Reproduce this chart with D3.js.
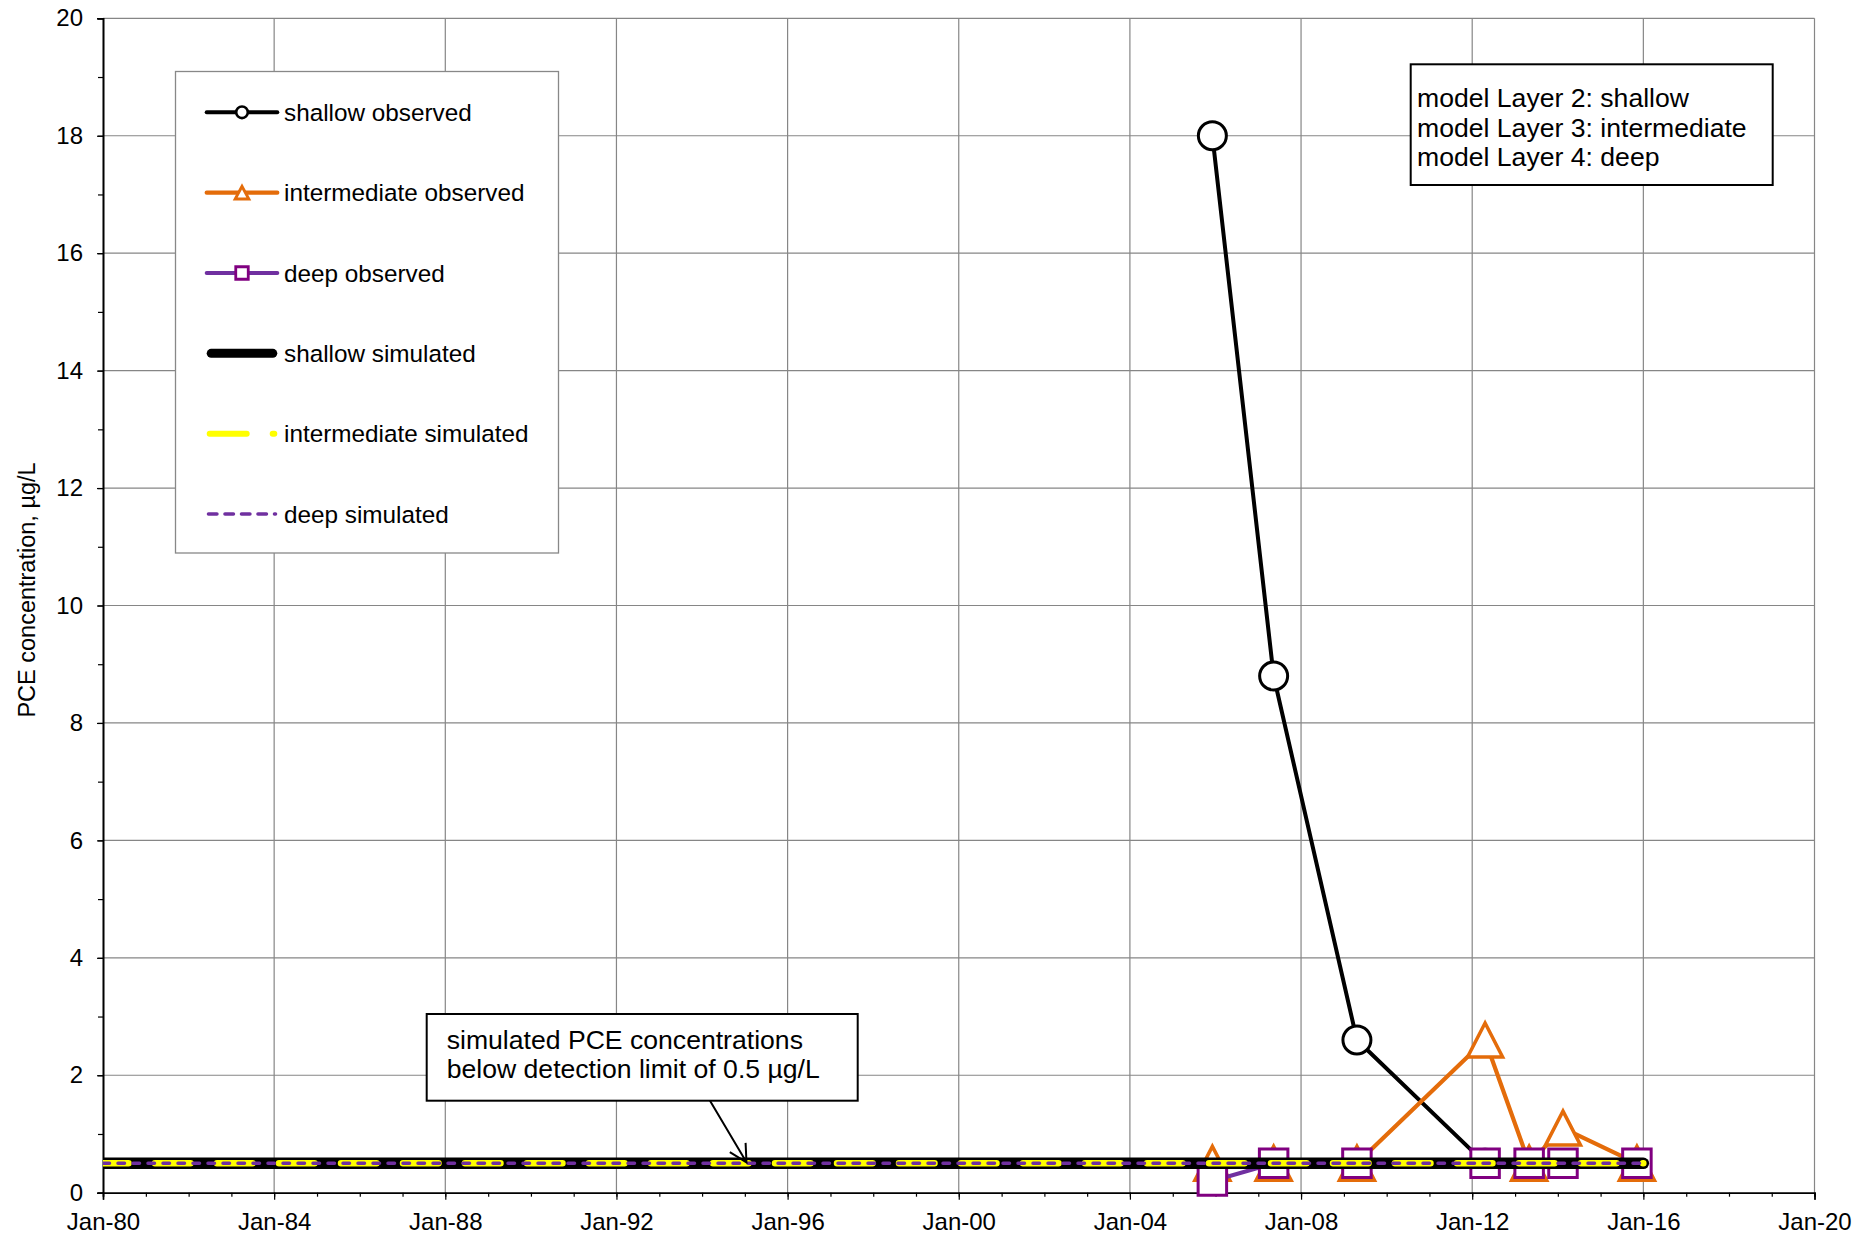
<!DOCTYPE html>
<html><head><meta charset="utf-8">
<script src="https://cdn.jsdelivr.net/npm/d3@7"></script>
<style>
body{margin:0;background:#fff}
svg{display:block}
text{font-family:Arial,"Liberation Sans",sans-serif;fill:#000}
</style></head>
<body><svg id="c" width="1872" height="1236"></svg>
<script>
// ---------- data ----------
const obsDates = ["2005-12-05","2007-05-12","2009-04-22","2012-04-20","2013-05-01","2014-02-14","2015-11-07"];
const shallowDates = ["2005-12-05","2007-05-12","2009-04-22","2012-04-20"];
const shallowObserved = [18, 8.8, 2.6, 0.5];
const intermediateObserved = [0.5, 0.5, 0.5, 2.6, 0.5, 1.1, 0.5];
const deepObserved = [0.2, 0.5, 0.5, 0.5, 0.5, 0.5, 0.5];
const simDates = ["1980-01-01","2016-01-01"];
const shallowSimulated = [0.5, 0.5];
const intermediateSimulated = [0.5, 0.5];
const deepSimulated = [0.5, 0.5];
const legendLabels = ["shallow observed","intermediate observed","deep observed","shallow simulated","intermediate simulated","deep simulated"];
const yTicks = [0,2,4,6,8,10,12,14,16,18,20];
const xTickYears = [1980,1984,1988,1992,1996,2000,2004,2008,2012,2016,2020];
const layerNotes = ["model Layer 2: shallow","model Layer 3: intermediate","model Layer 4: deep"];
const detectNote = ["simulated PCE concentrations","below detection limit of 0.5 µg/L"];
const yTitle = "PCE concentration, µg/L";

// ---------- layout ----------
const W = 1872, H = 1236;
const m = {left:103, top:18.3, right:57.5, bottom:43.3};
const iw = W - m.left - m.right, ih = H - m.top - m.bottom;
const parse = d3.timeParse("%Y-%m-%d");
const svg = d3.select("#c");
const g = svg.append("g").attr("transform", `translate(${m.left},${m.top})`);

const x = d3.scaleTime().domain([new Date(1980,0,1), new Date(2020,0,1)]).range([0, iw]);
const y = d3.scaleLinear().domain([0,20]).range([ih, 0]);

const C = {black:"#000", orange:"#E46C0A", purple:"#7030A0", sq:"#800080", yellow:"#FFFF00", grid:"#868686"};

// grid
const xMajor = xTickYears.map(yr => new Date(yr,0,1));
const xMinor = d3.range(1980, 2021).map(yr => new Date(yr,0,1));
g.append("g").selectAll("line").data(xMajor.slice(1)).join("line")
  .attr("x1", d => x(d)).attr("x2", d => x(d)).attr("y1", 0).attr("y2", ih)
  .attr("stroke", C.grid).attr("stroke-width", 1.2);
g.append("g").selectAll("line").data(yTicks.slice(1)).join("line")
  .attr("x1", 0).attr("x2", iw).attr("y1", d => y(d)).attr("y2", d => y(d))
  .attr("stroke", C.grid).attr("stroke-width", 1.2);

// axes
const fmt = d3.timeFormat("%b-%y");
const xAxis = g.append("g").attr("transform", `translate(0,${ih})`)
  .call(d3.axisBottom(x).tickValues(xMajor).tickFormat(fmt).tickSize(7).tickPadding(13));
const xMinorAxis = g.append("g").attr("transform", `translate(0,${ih})`)
  .call(d3.axisBottom(x).tickValues(xMinor).tickFormat("").tickSize(4));
const yAxis = g.append("g")
  .call(d3.axisLeft(y).tickValues(yTicks).tickSize(6).tickPadding(14));
const yMinorAxis = g.append("g")
  .call(d3.axisLeft(y).tickValues(d3.range(0,21,1)).tickFormat("").tickSize(5));
[xAxis, xMinorAxis, yAxis, yMinorAxis].forEach(a => {
  a.select(".domain").attr("stroke", "#000").attr("stroke-width", 1.6);
  a.selectAll(".tick line").attr("stroke", "#000").attr("stroke-width", 1.2);
  a.selectAll("text").style("font-size", "24px").style("font-family", "Arial, 'Liberation Sans', sans-serif").attr("fill", "#000");
});

// y title
svg.append("text").attr("transform", `translate(35,590) rotate(-90)`)
  .attr("text-anchor", "middle").style("font-size", "23.5px").text(yTitle);

// clip (left edge only)
svg.append("clipPath").attr("id", "clip").append("rect").attr("x", 0).attr("y", -40).attr("width", iw).attr("height", ih + 80);
const plot = g.append("g").attr("clip-path", "url(#clip)");

const line = d3.line().x(d => x(d[0])).y(d => y(d[1]));
const zipD = (dates, vals) => dates.map((d, i) => [parse(d), vals[i]]);

const shallowPts = zipD(shallowDates, shallowObserved);
const interPts = zipD(obsDates, intermediateObserved);
const deepPts = zipD(obsDates, deepObserved);

const triPath = (w, h) => `M0,${-h/2}L${w/2},${h/2}L${-w/2},${h/2}Z`;
const sqPath = s => `M${-s/2},${-s/2}H${s/2}V${s/2}H${-s/2}Z`;

// shallow observed
plot.append("path").datum(shallowPts).attr("d", line).attr("fill", "none")
  .attr("stroke", C.black).attr("stroke-width", 4).attr("stroke-linejoin", "round");
plot.append("g").selectAll("circle").data(shallowPts).join("circle")
  .attr("cx", d => x(d[0])).attr("cy", d => y(d[1])).attr("r", 14)
  .attr("fill", "#fff").attr("stroke", C.black).attr("stroke-width", 3);

// intermediate observed
plot.append("path").datum(interPts).attr("d", line).attr("fill", "none")
  .attr("stroke", C.orange).attr("stroke-width", 4.2).attr("stroke-linejoin", "round");
plot.append("g").selectAll("path").data(interPts).join("path")
  .attr("transform", d => `translate(${x(d[0])},${y(d[1])})`)
  .attr("d", triPath(35, 34)).attr("fill", "#fff").attr("stroke", C.orange).attr("stroke-width", 3.5);

// deep observed
plot.append("path").datum(deepPts).attr("d", line).attr("fill", "none")
  .attr("stroke", C.purple).attr("stroke-width", 4).attr("stroke-linejoin", "round");
plot.append("g").selectAll("path").data(deepPts).join("path")
  .attr("transform", d => `translate(${x(d[0])},${y(d[1])})`)
  .attr("d", sqPath(28.5)).attr("fill", "#fff").attr("stroke", C.sq).attr("stroke-width", 3);

// simulated
plot.append("path").datum(zipD(simDates, shallowSimulated)).attr("d", line).attr("fill", "none")
  .attr("stroke", C.black).attr("stroke-width", 11.5).attr("stroke-linecap", "round");
plot.append("path").datum(zipD(simDates, intermediateSimulated)).attr("d", line).attr("fill", "none")
  .attr("stroke", C.yellow).attr("stroke-width", 6.5).attr("stroke-linecap", "round")
  .attr("stroke-dasharray", "35.5,26.5").attr("stroke-dashoffset", 10);
plot.append("path").datum(zipD(simDates, deepSimulated)).attr("d", line).attr("fill", "none")
  .attr("stroke", C.purple).attr("stroke-width", 3.5).attr("stroke-linecap", "round")
  .attr("stroke-dasharray", "6.5,8.5");

// ---------- legend ----------
const lg = svg.append("g");
lg.append("rect").attr("x", 175.5).attr("y", 71.5).attr("width", 383).attr("height", 481.5)
  .attr("fill", "#fff").attr("stroke", "#888").attr("stroke-width", 1.3);
const rowY = i => 112.3 + i * 80.35;
const lx1 = 206.7, lx2 = 277.3, lmx = 242;
const styles = [
  {stroke:C.black, w:4, marker:"circle"},
  {stroke:C.orange, w:4.2, marker:"tri"},
  {stroke:C.purple, w:4, marker:"sq"},
  {stroke:C.black, w:9, cap:"round"},
  {stroke:C.yellow, w:6, cap:"round", dash:"37,26"},
  {stroke:C.purple, w:3.5, cap:"round", dash:"8.5,8"}
];
const rows = lg.selectAll("g.row").data(legendLabels).join("g").attr("class", "row")
  .attr("transform", (d, i) => `translate(0,${rowY(i)})`);
rows.append("line").attr("x1", (d, i) => lx1 + (styles[i].cap ? styles[i].w/2 : 0)).attr("x2", (d, i) => lx2 - (styles[i].cap ? styles[i].w/2 : 0))
  .attr("stroke", (d, i) => styles[i].stroke).attr("stroke-width", (d, i) => styles[i].w)
  .attr("stroke-linecap", (d, i) => styles[i].cap || "round")
  .attr("stroke-dasharray", (d, i) => styles[i].dash || null);
rows.each(function(d, i) {
  const s = styles[i], r = d3.select(this);
  if (s.marker === "circle") r.append("circle").attr("cx", lmx).attr("cy", 0).attr("r", 5.8).attr("fill", "#fff").attr("stroke", C.black).attr("stroke-width", 2.6);
  if (s.marker === "tri") r.append("path").attr("transform", `translate(${lmx},0)`).attr("d", triPath(13.5, 12.5)).attr("fill", "#fff").attr("stroke", C.orange).attr("stroke-width", 3);
  if (s.marker === "sq") r.append("path").attr("transform", `translate(${lmx},0)`).attr("d", sqPath(12.5)).attr("fill", "#fff").attr("stroke", C.sq).attr("stroke-width", 2.8);
});
rows.append("text").attr("x", 284).attr("y", 8.5).style("font-size", "24.3px").text(d => d);

// ---------- annotation: layers ----------
const ab = svg.append("g");
ab.append("rect").attr("x", 1410.7).attr("y", 64.3).attr("width", 362).attr("height", 120.7)
  .attr("fill", "#fff").attr("stroke", "#000").attr("stroke-width", 2);
ab.selectAll("text").data(layerNotes).join("text")
  .attr("x", 1417).attr("y", (d, i) => 106.7 + i * 29.8).style("font-size", "26.6px").text(d => d);

// ---------- annotation: detection limit ----------
const db = svg.append("g");
db.append("rect").attr("x", 426.7).attr("y", 1014).attr("width", 431).attr("height", 86.7)
  .attr("fill", "#fff").attr("stroke", "#000").attr("stroke-width", 2);
db.selectAll("text").data(detectNote).join("text")
  .attr("x", 446.7).attr("y", (d, i) => 1049.3 + i * 29).style("font-size", "26.6px").text(d => d);
const tip = [m.left + x(new Date(1995,0,15)), m.top + y(0.5) - 1];
const start = [710, 1100.7];
const ang = Math.atan2(tip[1] - start[1], tip[0] - start[0]);
const bl = 19.5, ba = 28 * Math.PI / 180;
const b1 = [tip[0] - bl * Math.cos(ang - ba), tip[1] - bl * Math.sin(ang - ba)];
const b2 = [tip[0] - bl * Math.cos(ang + ba), tip[1] - bl * Math.sin(ang + ba)];
db.append("path").attr("d", `M${start}L${tip}M${b1}L${tip}L${b2}`)
  .attr("fill", "none").attr("stroke", "#000").attr("stroke-width", 2);
</script></body></html>
